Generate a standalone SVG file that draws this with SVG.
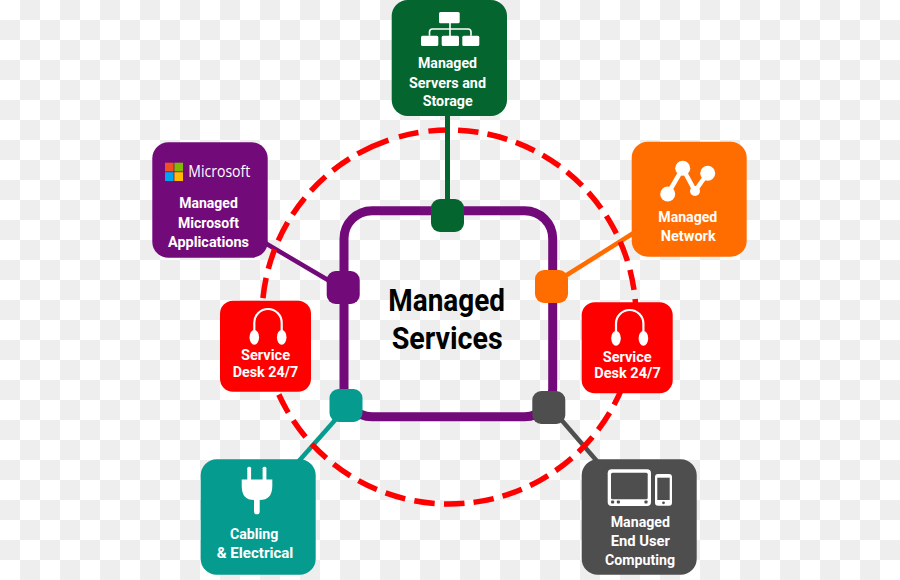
<svg xmlns="http://www.w3.org/2000/svg" width="900" height="580" viewBox="0 0 900 580">
  <style>
    text { font-family: Roboto, "Liberation Sans", sans-serif; }
    .label { font-size: 15.5px; font-weight: 700; fill: #fff; }
    .title { font-size: 31px; font-weight: 700; fill: #000; }
    .brand { font-size: 16px; font-weight: 400; fill: #fff; font-family: "Open Sans", "Liberation Sans", sans-serif; }
    .link { fill: none; stroke-linecap: butt; }
    .purple { fill: #730a7a; }
    .green { fill: #05652f; }
    .orange { fill: #ff6d00; }
    .teal { fill: #069b8f; }
    .slate { fill: #4e4e4e; }
    .red { fill: #ff0000; }
    .white { fill: #fff; }
    .line { fill: none; stroke: #fff; }
  </style>
  <defs>
    <pattern id="tile" width="40" height="40" patternUnits="userSpaceOnUse">
      <rect width="40" height="40" fill="#fff"/>
      <rect x="20" width="20" height="20" fill="#eee"/>
      <rect y="20" width="20" height="20" fill="#eee"/>
    </pattern>
    <g id="headset">
      <path class="line" stroke-width="2.2" d="M-13.7 -3 V-12.6 A13.7 13.7 0 0 1 13.7 -12.6 V-3"/>
      <ellipse class="white" cx="-13.7" cy="2" rx="4.8" ry="7.4"/>
      <ellipse class="white" cx="13.7" cy="2" rx="4.8" ry="7.4"/>
    </g>
  </defs>

  <rect id="backdrop" width="900" height="580" fill="url(#tile)"/>

  <g id="connectors">
    <line class="link" x1="260" y1="240" x2="333" y2="283" stroke="#730a7a" stroke-width="4.5"/>
    <line class="link" x1="636" y1="231.5" x2="562" y2="278" stroke="#ff6d00" stroke-width="4.5"/>
    <line class="link" x1="298" y1="462" x2="344" y2="410" stroke="#069b8f" stroke-width="4.5"/>
    <line class="link" x1="552" y1="409" x2="602" y2="467" stroke="#4e4e4e" stroke-width="4.5"/>
    <!-- dashed ring: the run starts at its one long dash, upper left, and goes clockwise -->
    <circle id="ring" cx="449" cy="317" r="187" transform="rotate(240.7 449 317)" pathLength="1175" fill="none" stroke="#ff0000" stroke-width="5.5" stroke-dasharray="34 11 20 10 20 9.7 20.5 9.13 20.5 9.13 20.5 9.13 20.5 9.13 20.5 9.13 20.5 9.13 20.5 9.13 20.5 9.13 20.5 9.13 20.5 9.13 20.5 9.13 20.5 9.13 20.5 9.13 20.5 9.13 20.5 9.13 20.5 9.13 20.5 9.13 20.5 9.13 20.5 9.13 20.5 9.33 20.5 9.33 20.5 9.33 20.5 9.33 20.5 9.33 20.5 9.33 20.5 9.33 20.5 9.33 20.5 9.33 20.5 9.33 20.5 9.33 20.5 9.33 20.5 9.33 20.5 9.4 20.5 9.4 20.5 9.4 20.5 9.4"/>
    <line class="link" x1="447.5" y1="112" x2="447.5" y2="204" stroke="#05652f" stroke-width="5"/>
    <rect id="hub-frame" x="344" y="210.7" width="208.7" height="206" rx="28" fill="none" stroke="#730a7a" stroke-width="9"/>
  </g>

  <g id="hub-title">
    <text class="title" x="388.3" y="311" textLength="116.7" lengthAdjust="spacingAndGlyphs">Managed</text>
    <text class="title" x="391.7" y="349" textLength="111" lengthAdjust="spacingAndGlyphs">Services</text>
  </g>

  <g id="port-servers"><rect class="green" x="431" y="199" width="33" height="33" rx="9"/></g>
  <g id="port-microsoft"><rect class="purple" x="326.7" y="271" width="33" height="33" rx="9"/></g>
  <g id="port-network"><rect class="orange" x="535" y="270" width="33" height="33" rx="9"/></g>
  <g id="port-cabling"><rect class="teal" x="329.5" y="389" width="33" height="33" rx="9"/></g>
  <g id="port-computing"><rect class="slate" x="532.3" y="391" width="33" height="33" rx="9"/></g>

  <g id="node-servers">
    <rect class="green" x="391.7" y="0" width="115.3" height="116" rx="16"/>
    <rect class="white" x="439" y="12" width="20.7" height="11.3" rx="1.5"/>
    <rect class="white" x="421" y="35.7" width="17.3" height="10.3" rx="1.5"/>
    <rect class="white" x="441.7" y="35.7" width="17.3" height="10.3" rx="1.5"/>
    <rect class="white" x="462.3" y="35.7" width="17" height="10.3" rx="1.5"/>
    <path class="line" stroke-width="1.6" d="M450 23 V36 M429.5 35.7 V32 Q429.5 29 432.5 29 H468 Q471 29 471 32 V35.7"/>
    <text class="label" x="418" y="68" textLength="59" lengthAdjust="spacingAndGlyphs">Managed</text>
    <text class="label" x="409" y="87.5" textLength="77" lengthAdjust="spacingAndGlyphs">Servers and</text>
    <text class="label" x="422.7" y="106" textLength="50" lengthAdjust="spacingAndGlyphs">Storage</text>
  </g>

  <g id="node-microsoft">
    <rect class="purple" x="152.3" y="142.3" width="115.4" height="115.4" rx="16"/>
    <rect x="165" y="162.7" width="8.6" height="8.7" fill="#f25022"/>
    <rect x="174.4" y="162.7" width="8.6" height="8.7" fill="#7fba00"/>
    <rect x="165" y="172.2" width="8.6" height="8.8" fill="#00a4ef"/>
    <rect x="174.4" y="172.2" width="8.6" height="8.8" fill="#ffb900"/>
    <text class="brand" x="188.3" y="177.3" textLength="62" lengthAdjust="spacingAndGlyphs">Microsoft</text>
    <text class="label" x="179.3" y="208.3" textLength="58.5" lengthAdjust="spacingAndGlyphs">Managed</text>
    <text class="label" x="178" y="227.7" textLength="61" lengthAdjust="spacingAndGlyphs">Microsoft</text>
    <text class="label" x="168" y="246.7" textLength="81" lengthAdjust="spacingAndGlyphs">Applications</text>
  </g>

  <g id="node-network">
    <rect class="orange" x="631.7" y="141.7" width="115" height="115" rx="16"/>
    <path class="line" stroke-width="4.5" d="M667.7 194 L682.7 168.3 L695 191 L707.7 173.3"/>
    <circle class="white" cx="667.7" cy="194" r="7.5"/>
    <circle class="white" cx="682.7" cy="168.3" r="7.5"/>
    <circle class="white" cx="695" cy="191" r="5"/>
    <circle class="white" cx="707.7" cy="173.3" r="7.5"/>
    <text class="label" x="658.3" y="222.3" textLength="59" lengthAdjust="spacingAndGlyphs">Managed</text>
    <text class="label" x="660.7" y="241" textLength="55" lengthAdjust="spacingAndGlyphs">Network</text>
  </g>

  <g id="node-desk-left">
    <rect class="red" x="220" y="300.7" width="91" height="91" rx="13"/>
    <use href="#headset" x="268" y="335.3"/>
    <text class="label" x="241" y="360" textLength="49" lengthAdjust="spacingAndGlyphs">Service</text>
    <text class="label" x="232.7" y="376.7" textLength="65.6" lengthAdjust="spacingAndGlyphs">Desk 24/7</text>
  </g>

  <g id="node-desk-right">
    <rect class="red" x="581.7" y="302.3" width="91" height="91" rx="13"/>
    <use href="#headset" x="629.7" y="336.3"/>
    <text class="label" x="602.7" y="361.7" textLength="49" lengthAdjust="spacingAndGlyphs">Service</text>
    <text class="label" x="594.3" y="378.3" textLength="66.4" lengthAdjust="spacingAndGlyphs">Desk 24/7</text>
  </g>

  <g id="node-cabling">
    <rect class="teal" x="200.7" y="459.3" width="115" height="115.4" rx="16"/>
    <rect class="white" x="247.3" y="466.7" width="3.8" height="15" rx="1.5"/>
    <rect class="white" x="262.6" y="466.7" width="3.8" height="15" rx="1.5"/>
    <path class="white" d="M241.7 479.5 H272.3 V486 Q272.3 500 259.7 500 V511.5 A2.85 2.85 0 0 1 254 511.5 V500 Q241.7 500 241.7 486 Z"/>
    <text class="label" x="230" y="539" textLength="48.3" lengthAdjust="spacingAndGlyphs">Cabling</text>
    <text class="label" x="216.7" y="558.3" textLength="76.6" lengthAdjust="spacingAndGlyphs">&amp; Electrical</text>
  </g>

  <g id="node-computing">
    <rect class="slate" x="581.7" y="459.3" width="115" height="115.4" rx="16"/>
    <rect class="white" x="607.7" y="469.3" width="43.3" height="36.7" rx="4"/>
    <rect class="slate" x="611" y="472.7" width="36.7" height="26.6" rx="1.5"/>
    <rect class="slate" x="611" y="500.4" width="3.2" height="3" rx="1"/>
    <rect class="slate" x="616.8" y="500.4" width="3.2" height="3" rx="1"/>
    <rect class="slate" x="644.4" y="500.4" width="3.2" height="3" rx="1"/>
    <rect class="white" x="655" y="474" width="17" height="31.7" rx="3"/>
    <rect class="slate" x="657.3" y="477.7" width="12.4" height="22.3"/>
    <circle class="slate" cx="663.5" cy="502.8" r="1.4"/>
    <text class="label" x="610.7" y="526.7" textLength="59.3" lengthAdjust="spacingAndGlyphs">Managed</text>
    <text class="label" x="610.7" y="546" textLength="59.3" lengthAdjust="spacingAndGlyphs">End User</text>
    <text class="label" x="605" y="565" textLength="70" lengthAdjust="spacingAndGlyphs">Computing</text>
  </g>
</svg>
